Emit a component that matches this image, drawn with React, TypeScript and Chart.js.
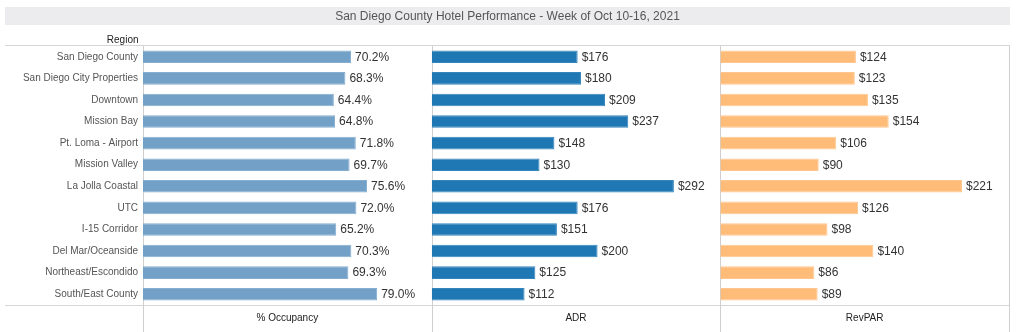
import React, { useEffect, useRef } from "react";
import { Chart, registerables } from "chart.js";

Chart.register(...registerables);

const regions = [
  "San Diego County",
  "San Diego City Properties",
  "Downtown",
  "Mission Bay",
  "Pt. Loma - Airport",
  "Mission Valley",
  "La Jolla Coastal",
  "UTC",
  "I-15 Corridor",
  "Del Mar/Oceanside",
  "Northeast/Escondido",
  "South/East County",
];
const occupancy = [70.2, 68.3, 64.4, 64.8, 71.8, 69.7, 75.6, 72.0, 65.2, 70.3, 69.3, 79.0];
const adr = [176, 180, 209, 237, 148, 130, 292, 176, 151, 200, 125, 112];
const revpar = [124, 123, 135, 154, 106, 90, 221, 126, 98, 140, 86, 89];
const measureTitles = ["% Occupancy", "ADR", "RevPAR"];
const chartTitle = "San Diego County Hotel Performance - Week of Oct 10-16, 2021";
const rowHeader = "Region";

const FONT = "'Liberation Sans', Arial, sans-serif";

const decorPlugin = {
  id: "decor",
  beforeDatasetsDraw(chart: any) {
    const { ctx, chartArea } = chart;
    ctx.save();
    // title band
    ctx.fillStyle = "#ececef";
    ctx.fillRect(5, 7, 1005, 18);
    ctx.fillStyle = "#555555";
    ctx.font = `12px ${FONT}`;
    ctx.textAlign = "center";
    ctx.textBaseline = "middle";
    ctx.fillText(chartTitle, 507.5, 16.5);
    // row header
    ctx.fillStyle = "#222222";
    ctx.font = `10px ${FONT}`;
    ctx.textAlign = "right";
    ctx.fillText(rowHeader, 138.5, 40.5);
    // horizontal lines
    ctx.strokeStyle = "#d6d6d6";
    ctx.lineWidth = 1;
    ctx.beginPath();
    ctx.moveTo(5, Math.round(chartArea.top) - 0.5);
    ctx.lineTo(1010, Math.round(chartArea.top) - 0.5);
    ctx.moveTo(5, Math.round(chartArea.bottom) + 0.5);
    ctx.lineTo(1010, Math.round(chartArea.bottom) + 0.5);
    ctx.stroke();
    // vertical lines
    ctx.strokeStyle = "#cfcfcf";
    ctx.beginPath();
    const xs = [chart.scales.x1.left, chart.scales.x2.left, chart.scales.x3.left, chart.scales.x3.right];
    xs.forEach((x: number) => {
      const px = Math.round(x) + 0.5;
      ctx.moveTo(px, Math.round(chartArea.top) - 0.5);
      ctx.lineTo(px, chart.height);
    });
    ctx.stroke();
    ctx.restore();
  },
  afterDatasetsDraw(chart: any) {
    const { ctx } = chart;
    ctx.save();
    ctx.font = `12px ${FONT}`;
    ctx.fillStyle = "#333333";
    ctx.textAlign = "left";
    ctx.textBaseline = "middle";
    chart.data.datasets.forEach((ds: any, di: number) => {
      const meta = chart.getDatasetMeta(di);
      meta.data.forEach((el: any, i: number) => {
        const v = ds.data[i];
        const txt = di === 0 ? `${v.toFixed(1)}%` : `$${v}`;
        ctx.fillText(txt, el.x + 4, el.y + 0.5);
      });
    });
    ctx.restore();
  },
};

function xAxis(title: string, max: number) {
  return {
    type: "linear" as const,
    position: "bottom" as const,
    stack: "measures",
    stackWeight: 1,
    min: 0,
    max,
    grid: { display: false, drawTicks: false },
    border: { display: false },
    ticks: { display: false },
    title: {
      display: true,
      text: title,
      color: "#222222",
      font: { family: FONT, size: 10 },
      padding: { top: 0, bottom: 8 },
    },
    afterFit(scale: any) {
      scale.height = 27;
    },
  };
}

export default function App() {
  const ref = useRef<HTMLCanvasElement | null>(null);
  useEffect(() => {
    if (!ref.current) return;
    const chart = new Chart(ref.current, {
      type: "bar",
      data: {
        labels: regions,
        datasets: [
          {
            label: measureTitles[0],
            data: occupancy,
            xAxisID: "x1",
            backgroundColor: "#72a0c7",
            borderColor: "#86aed0",
            borderWidth: 1,
          },
          {
            label: measureTitles[1],
            data: adr,
            xAxisID: "x2",
            backgroundColor: "#1f77b4",
            borderColor: "#3585bd",
            borderWidth: 1,
          },
          {
            label: measureTitles[2],
            data: revpar,
            xAxisID: "x3",
            backgroundColor: "#ffbb78",
            borderColor: "#ffc78f",
            borderWidth: 1,
          },
        ],
      },
      options: {
        indexAxis: "y",
        responsive: false,
        animation: false,
        layout: { padding: { top: 46, right: 15, bottom: 0, left: 0 } },
        datasets: {
          bar: { grouped: false, categoryPercentage: 1, barPercentage: 0.58 },
        },
        plugins: {
          legend: { display: false },
          tooltip: { enabled: false },
          title: { display: false },
        },
        scales: {
          y: {
            type: "category",
            position: "left",
            grid: { display: false, drawTicks: false },
            border: { display: false },
            ticks: {
              color: "#555555",
              font: { family: FONT, size: 10 },
              padding: 5,
              autoSkip: false,
            },
            afterFit(scale: any) {
              scale.width = 143;
            },
          },
          x1: xAxis(measureTitles[0], 97.4),
          x2: xAxis(measureTitles[1], 348),
          x3: xAxis(measureTitles[2], 264),
        },
      } as any,
      plugins: [decorPlugin],
    });
    return () => chart.destroy();
  }, []);
  return (
    <div style={{ position: "absolute", left: 0, top: 0, width: 1024, height: 332, background: "#fff" }}>
      <canvas ref={ref} width={1024} height={332} />
    </div>
  );
}
